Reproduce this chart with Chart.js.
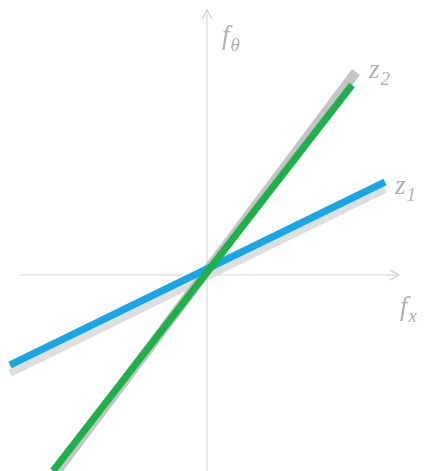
<!DOCTYPE html>
<html><head>
<meta charset="utf-8">
<title>f_x / f_theta</title>
<style type="text/css">
body { margin:0; background:#ffffff; }
#plot { display:block; }
</style>
<script src="https://cdn.jsdelivr.net/npm/chart.js"></script>
<script>
// end points of the lines, x = f_x, y = f_theta
z1Line=[{x:-1.97,y:-0.90},{x:1.78,y:0.93}];
z1Shadow=[{x:-1.97,y:-0.98},{x:1.78,y:0.86}];
z2Line=[{x:-1.54,y:-1.96},{x:1.45,y:1.90}];
z2Shadow=[{x:-1.50,y:-1.96},{x:1.49,y:2.03}];
axisX=[{x:-1.87,y:0},{x:1.92,y:0}];
axisY=[{x:0,y:-1.96},{x:0,y:2.65}];
tagNames=["z2","z1","fx","ftheta"];
tagAt=[{x:1.62,y:1.97},{x:1.88,y:0.81},{x:1.93,y:-0.40},{x:0.15,y:2.31}];

function mathTag(ctx,base,sub,px,py) {
  ctx.font="italic 27px 'Liberation Serif',serif";
  ctx.fillText(base,px,py);
  w=ctx.measureText(base).width;
  ctx.font="italic 19px 'Liberation Serif',serif";
  ctx.fillText(sub,px+w+1,py+7); }

arrowPlugin={id:'arrows',afterDatasetsDraw(chart) {
  ctx=chart.ctx; xs=chart.scales.x; ys=chart.scales.y;
  ctx.save(); ctx.strokeStyle='#d6d6d6'; ctx.lineWidth=1.5;
  // arrow heads at the positive ends of both axes
  tx=xs.getPixelForValue(axisX[1].x); ty=ys.getPixelForValue(axisX[1].y);
  ctx.beginPath(); ctx.moveTo(tx-9,ty-5); ctx.lineTo(tx,ty); ctx.lineTo(tx-9,ty+5); ctx.stroke();
  tx=xs.getPixelForValue(axisY[1].x); ty=ys.getPixelForValue(axisY[1].y);
  ctx.beginPath(); ctx.moveTo(tx-5,ty+9); ctx.lineTo(tx,ty); ctx.lineTo(tx+5,ty+9); ctx.stroke();
  ctx.fillStyle='#b0b0b0'; ctx.textBaseline='alphabetic';
  parts={z2:['z','2'],z1:['z','1'],fx:['f','x'],ftheta:['f','\u03b8']};
  for (i=0;i<tagNames.length;i++) {
    p=parts[tagNames[i]];
    mathTag(ctx,p[0],p[1],xs.getPixelForValue(tagAt[i].x),ys.getPixelForValue(tagAt[i].y)); }
  ctx.restore(); }};

// lower order is drawn on top
function seg(pts,color,width,order) {
  return {data:pts,borderColor:color,backgroundColor:color,borderWidth:width,order:order,
    borderCapStyle:'butt',pointRadius:0,fill:false,tension:0}; }

function initChart() {
  config={type:'line',
    data:{datasets:[
      seg(axisX,'#e2e2e2',1.5,6),
      seg(axisY,'#e2e2e2',1.5,5),
      seg(z1Shadow,'#dedede',8,4),
      seg(z2Shadow,'#c4c4c4',10,3),
      seg(z1Line,'#19a6e4',7,2),
      seg(z2Line,'#1fb04c',7,1)]},
    options:{responsive:false,animation:false,devicePixelRatio:1,
      layout:{padding:0},
      plugins:{legend:{display:false},tooltip:{enabled:false}},
      scales:{
        x:{type:'linear',min:-2.07,max:2.17,display:false},
        y:{type:'linear',min:-1.96,max:2.75,display:false}}},
    plugins:[arrowPlugin]};
  myChart=new Chart(document.getElementById('plot'),config); }
</script></head>
<body onload="initChart();">
<canvas id="plot" width="424" height="471"></canvas>
</body></html>
